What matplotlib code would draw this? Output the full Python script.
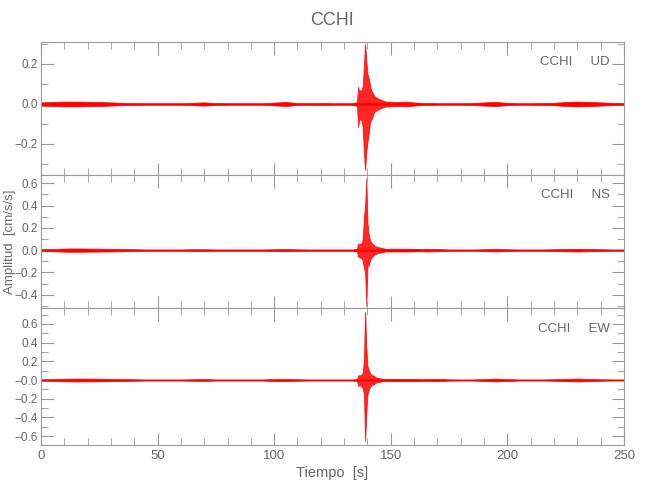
import matplotlib
matplotlib.use('Agg')
import matplotlib.pyplot as plt
import numpy as np
from matplotlib.ticker import MultipleLocator, FixedLocator, FixedFormatter

plt.rcParams['font.family'] = ['Liberation Sans', 'DejaVu Sans']

t_bg = [0, 5, 10, 15, 20, 25, 30, 35, 40, 45, 50, 55, 60, 65, 70, 75, 80, 85, 90, 95,
        100, 105, 110, 115, 120, 125, 130, 135, 140, 145, 150, 155, 160, 165, 170, 175,
        180, 185, 190, 195, 200, 205, 210, 215, 220, 225, 230, 235, 240, 245, 250]
env_ud = [0.008, 0.010, 0.012, 0.012, 0.011, 0.010, 0.008, 0.006, 0.005, 0.004, 0.004, 0.004,
          0.004, 0.006, 0.008, 0.005, 0.004, 0.004, 0.004, 0.004, 0.007, 0.010, 0.005, 0.004,
          0.005, 0.004, 0.004, 0.004, 0.004, 0.004, 0.004, 0.005, 0.006, 0.005, 0.004, 0.004,
          0.004, 0.005, 0.008, 0.010, 0.006, 0.004, 0.004, 0.005, 0.006, 0.010, 0.012, 0.011,
          0.008, 0.006, 0.005]
env_ns = [0.008, 0.010, 0.014, 0.015, 0.014, 0.013, 0.012, 0.010, 0.008, 0.006, 0.006, 0.006,
          0.006, 0.008, 0.008, 0.006, 0.006, 0.006, 0.006, 0.006, 0.008, 0.010, 0.007, 0.006,
          0.006, 0.006, 0.006, 0.006, 0.006, 0.006, 0.006, 0.007, 0.008, 0.012, 0.010, 0.006,
          0.006, 0.006, 0.008, 0.012, 0.008, 0.006, 0.006, 0.006, 0.008, 0.010, 0.012, 0.010,
          0.008, 0.006, 0.006]
env_ew = [0.008, 0.010, 0.014, 0.015, 0.015, 0.014, 0.012, 0.010, 0.008, 0.006, 0.006, 0.006,
          0.006, 0.008, 0.010, 0.006, 0.006, 0.006, 0.006, 0.006, 0.010, 0.012, 0.008, 0.006,
          0.006, 0.006, 0.006, 0.006, 0.006, 0.006, 0.006, 0.007, 0.008, 0.010, 0.012, 0.007,
          0.006, 0.006, 0.010, 0.015, 0.010, 0.006, 0.006, 0.006, 0.008, 0.012, 0.015, 0.012,
          0.008, 0.006, 0.006]

# Event window, upper / lower envelopes
t_ev = [134, 134.5, 135, 135.5, 136, 136.5, 137, 137.5, 138, 138.5, 139, 139.5, 140, 140.5,
        141, 141.5, 142, 142.5, 143, 143.5, 144, 145, 146, 147, 148, 150, 152, 154, 156,
        158, 160, 162]
hi_ud = [0.006, 0.006, 0.008, 0.010, 0.086, 0.060, 0.070, 0.070, 0.090, 0.200, 0.300, 0.220,
         0.150, 0.130, 0.100, 0.070, 0.060, 0.050, 0.040, 0.035, 0.030, 0.025, 0.020, 0.015,
         0.012, 0.012, 0.010, 0.010, 0.012, 0.010, 0.008, 0.006]
lo_ud = [-0.006, -0.006, -0.008, -0.010, -0.115, -0.070, -0.080, -0.080, -0.120, -0.250, -0.330,
         -0.240, -0.190, -0.150, -0.100, -0.080, -0.070, -0.050, -0.040, -0.035, -0.030, -0.025,
         -0.020, -0.015, -0.012, -0.012, -0.010, -0.010, -0.012, -0.010, -0.008, -0.006]
hi_ns = [0.008, 0.008, 0.010, 0.012, 0.060, 0.050, 0.060, 0.060, 0.100, 0.300, 0.400, 0.645,
         0.250, 0.140, 0.100, 0.070, 0.060, 0.050, 0.040, 0.035, 0.030, 0.025, 0.020, 0.015,
         0.012, 0.012, 0.012, 0.012, 0.012, 0.012, 0.010, 0.008]
lo_ns = [-0.008, -0.008, -0.010, -0.012, -0.060, -0.060, -0.070, -0.070, -0.100, -0.160, -0.200,
         -0.500, -0.150, -0.135, -0.100, -0.070, -0.060, -0.050, -0.040, -0.035, -0.030, -0.025,
         -0.020, -0.015, -0.012, -0.012, -0.012, -0.012, -0.012, -0.012, -0.010, -0.008]
hi_ew = [0.006, 0.006, 0.008, 0.010, 0.050, 0.050, 0.050, 0.060, 0.080, 0.220, 0.730, 0.360,
         0.150, 0.110, 0.080, 0.060, 0.050, 0.050, 0.040, 0.030, 0.025, 0.020, 0.015, 0.012,
         0.010, 0.010, 0.010, 0.010, 0.010, 0.010, 0.008, 0.006]
lo_ew = [-0.006, -0.006, -0.008, -0.010, -0.060, -0.060, -0.060, -0.070, -0.090, -0.150, -0.650,
         -0.370, -0.150, -0.110, -0.080, -0.060, -0.050, -0.050, -0.040, -0.030, -0.025, -0.020,
         -0.015, -0.012, -0.010, -0.010, -0.010, -0.010, -0.010, -0.010, -0.008, -0.006]

channels = ['UD', 'NS', 'EW']
ylims = [(-0.355, 0.31), (-0.52, 0.675), (-0.695, 0.77)]
yticks = [[-0.2, 0.0, 0.2],
          [-0.4, -0.2, 0.0, 0.2, 0.4, 0.6],
          [-0.6, -0.4, -0.2, 0.0, 0.2, 0.4, 0.6]]
ylabels = [['\u22120.2', '0.0', '0.2'],
           ['\u22120.4', '\u22120.2', '0.0', '0.2', '0.4', '0.6'],
           ['\u22120.6', '\u22120.4', '\u22120.2', '\u22120.0', '0.2', '0.4', '0.6']]
envs = [env_ud, env_ns, env_ew]
his = [hi_ud, hi_ns, hi_ew]
los = [lo_ud, lo_ns, lo_ew]

gray = '#666666'
red = '#ff0000'

fig = plt.figure(figsize=(6.5, 5), dpi=100)
boxes = [[0.063, 0.650, 0.897, 0.266],
         [0.063, 0.384, 0.897, 0.266],
         [0.063, 0.110, 0.897, 0.274]]

for i in range(3):
    ax = fig.add_axes(boxes[i])
    env = np.array(envs[i])
    ax.fill_between(t_bg, -env, env, color=red, lw=0.5)
    ax.fill_between(t_ev, los[i], his[i], color=red, lw=0.6, alpha=0.85)
    ax.plot([0, 250], [0, 0], color=red, lw=0.8)

    ax.set_xlim(0, 250)
    ax.set_ylim(*ylims[i])
    ax.xaxis.set_major_locator(MultipleLocator(50))
    ax.xaxis.set_minor_locator(MultipleLocator(10))
    ax.yaxis.set_major_locator(FixedLocator(yticks[i]))
    ax.yaxis.set_major_formatter(FixedFormatter(ylabels[i]))
    ax.yaxis.set_minor_locator(MultipleLocator(0.1))
    ax.tick_params(which='both', direction='in', top=True, right=True,
                   color='#999999', labelcolor=gray, labelsize=8.5)
    ax.tick_params(axis='y', pad=2)
    ax.tick_params(which='major', length=9)
    ax.tick_params(which='minor', length=5)
    for s in ax.spines.values():
        s.set_color('#999999')
        s.set_linewidth(0.8)
    if i < 2:
        ax.tick_params(labelbottom=False)
    else:
        ax.tick_params(axis='x', labelsize=9.5)
        ax.set_xlabel('Tiempo  [s]', color=gray, fontsize=10.5, labelpad=3)
    ax.text(0.976, 0.85, 'CCHI     ' + channels[i], transform=ax.transAxes,
            ha='right', va='center', color=gray, fontsize=9.5)
    if i == 0:
        ax.set_title('CCHI', color=gray, fontsize=13, pad=12)
    if i == 1:
        ax.set_ylabel('Amplitud  [cm/s/s]', color=gray, fontsize=9.5)
        ax.yaxis.set_label_coords(-0.042, 0.5)

fig.savefig('out.png', dpi=100)
